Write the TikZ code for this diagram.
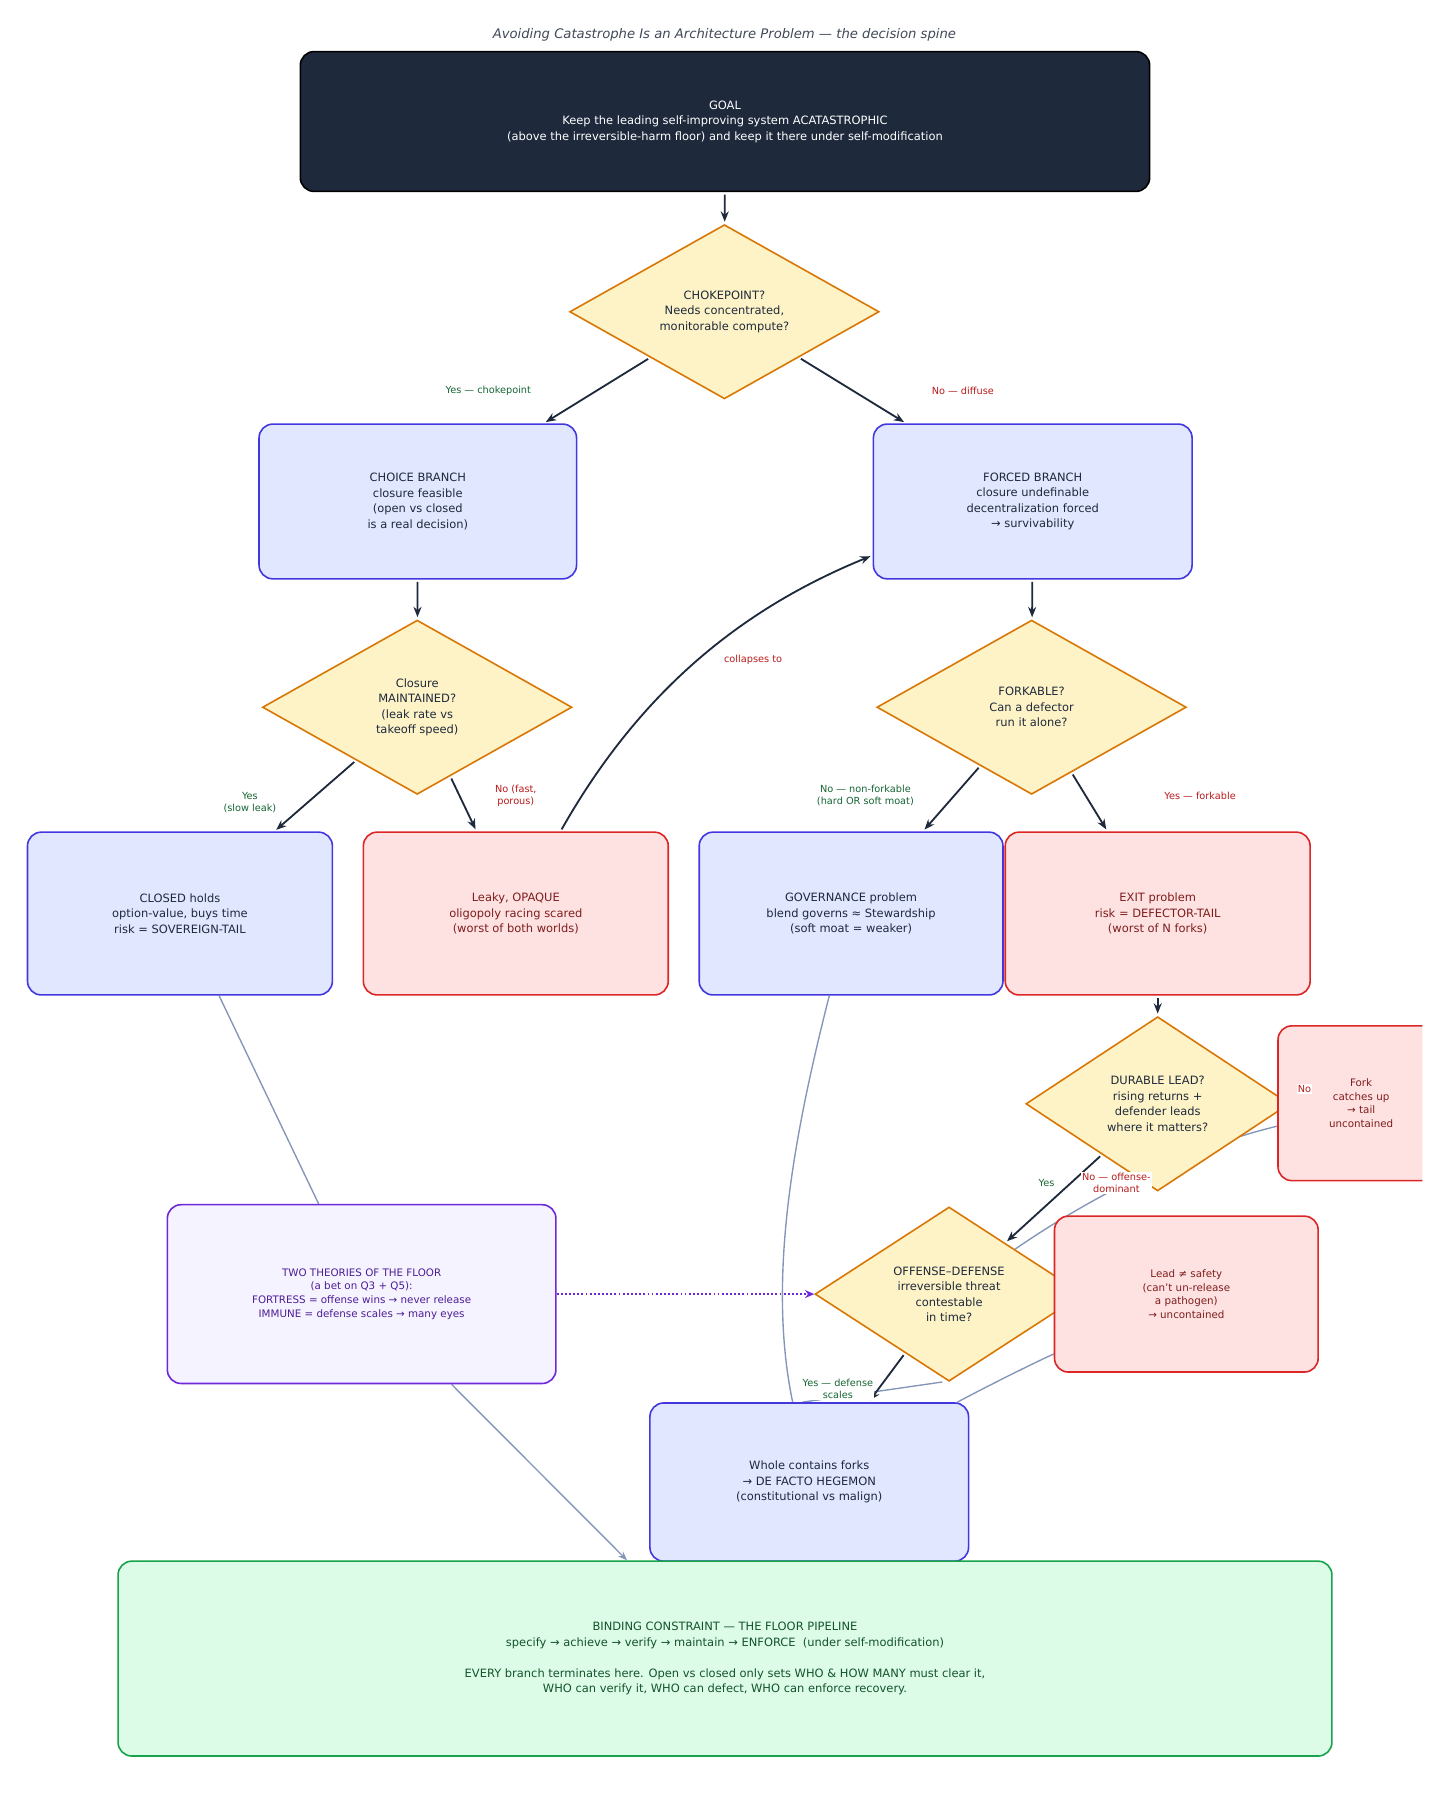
\documentclass[tikz,border=0pt]{standalone}
\usepackage{fontspec}
\setmainfont{DejaVu Sans}
\usetikzlibrary{shapes.geometric,arrows.meta,backgrounds}
\definecolor{ink}{HTML}{1E293B}
\definecolor{bfill}{HTML}{E0E7FF}\definecolor{bline}{HTML}{4338E0}
\definecolor{rfill}{HTML}{FEE2E2}\definecolor{rline}{HTML}{DC2626}\definecolor{rtext}{HTML}{7F1D1D}
\definecolor{dfill}{HTML}{FEF3C7}\definecolor{dline}{HTML}{D97706}
\definecolor{pfill}{HTML}{F5F3FF}\definecolor{pline}{HTML}{6D28D9}\definecolor{ptext}{HTML}{4C1D95}
\definecolor{gfill}{HTML}{DCFCE7}\definecolor{gline}{HTML}{16A34A}\definecolor{gtext}{HTML}{14532D}
\definecolor{lred}{HTML}{B91C1C}\definecolor{lgreen}{HTML}{166534}
\definecolor{gray}{HTML}{8496B8}
\begin{document}
\begin{tikzpicture}[x=1pt,y=-1pt,
  every node/.style={font=\fontsize{10}{13.5}\selectfont,align=center,inner sep=2pt},
  box/.style={rectangle,rounded corners=12pt,line width=1.4pt,minimum width=#1,text=ink},
  blue/.style={box=#1,fill=bfill,draw=bline},
  red/.style={box=#1,fill=rfill,draw=rline,text=rtext},
  dia/.style={diamond,fill=dfill,draw=dline,line width=1.4pt,inner sep=0pt,text=ink},
  arr/.style={draw=ink,line width=1.6pt,-{Stealth[length=9pt,width=7pt]},shorten <=2pt,shorten >=2pt},
  gry/.style={draw=gray,line width=1.2pt},
  lab/.style={font=\fontsize{8.5}{10.5}\selectfont,fill=white,inner sep=1pt},
]
\useasboundingbox (0,0) rectangle (1270,1573);
\node[font=\itshape\fontsize{11.5}{14}\selectfont,text=ink!85] (title) at (632,30) {Avoiding Catastrophe Is an Architecture Problem — the decision spine};
\node[box=741pt,minimum height=122pt,fill=ink,draw=black,text=white] (goal) at (632.5,106) {GOAL\\Keep the leading self-improving system ACATASTROPHIC\\(above the irreversible-harm floor) and keep it there under self-modification};
\node[dia,minimum width=270pt,minimum height=152pt] (choke) at (632,272) {CHOKEPOINT?\\Needs concentrated,\\monitorable compute?};
\node[blue=277pt,minimum height=135pt] (choice) at (364.5,437.5) {CHOICE BRANCH\\closure feasible\\(open vs closed\\is a real decision)};
\node[blue=278pt,minimum height=135pt] (forced) at (901,437.5) {FORCED BRANCH\\closure undefinable\\decentralization forced\\→ survivability};
\node[dia,minimum width=270pt,minimum height=152pt] (closure) at (364,617) {Closure\\MAINTAINED?\\(leak rate vs\\takeoff speed)};
\node[dia,minimum width=270pt,minimum height=152pt] (fork) at (900,617) {FORKABLE?\\Can a defector\\run it alone?};
\node[blue=266pt,minimum height=142pt] (closed) at (157,797) {CLOSED holds\\option-value, buys time\\risk = SOVEREIGN-TAIL};
\node[red=266pt,minimum height=142pt] (leaky) at (450,797) {Leaky, OPAQUE\\oligopoly racing scared\\(worst of both worlds)};
\node[blue=265pt,minimum height=142pt] (gov) at (742.5,797) {GOVERNANCE problem\\blend governs ≈ Stewardship\\(soft moat = weaker)};
\node[red=266pt,minimum height=142pt] (exit) at (1010,797) {EXIT problem\\risk = DEFECTOR-TAIL\\(worst of N forks)};
\node[dia,minimum width=230pt,minimum height=152pt] (dur) at (1010,963) {DURABLE LEAD?\\rising returns +\\defender leads\\where it matters?};
\begin{scope}
\clip (0,0) rectangle (1241,1573);
\node[red=145pt,minimum height=135pt,font=\fontsize{9}{12}\selectfont,text width=100pt] (catch) at (1187.5,962.5) {Fork\\catches up\\→ tail\\uncontained};
\end{scope}
\node[dia,minimum width=234pt,minimum height=152pt] (off) at (828,1129) {OFFENSE–DEFENSE\\irreversible threat\\contestable\\in time?};
\node[red=230pt,minimum height=136pt,font=\fontsize{9}{12}\selectfont] (lead) at (1035,1129) {Lead ≠ safety\\(can't un-release\\a pathogen)\\→ uncontained};
\node[box=339pt,minimum height=156pt,fill=pfill,draw=pline,text=ptext,font=\fontsize{9}{12}\selectfont] (two) at (315.5,1129) {TWO THEORIES OF THE FLOOR\\(a bet on Q3 + Q5):\\FORTRESS = offense wins → never release\\IMMUNE = defense scales → many eyes};
\node[blue=278pt,minimum height=138pt] (whole) at (706,1293) {Whole contains forks\\→ DE FACTO HEGEMON\\(constitutional vs malign)};
\node[box=1059pt,minimum height=170pt,fill=gfill,draw=gline,text=gtext] (bind) at (632.5,1447) {BINDING CONSTRAINT — THE FLOOR PIPELINE\\specify → achieve → verify → maintain → ENFORCE\ \ (under self-modification)\\[13.5pt]EVERY branch terminates here. Open vs closed only sets WHO \& HOW MANY must clear it,\\WHO can verify it, WHO can defect, WHO can enforce recovery.};

\begin{scope}[on background layer]
\draw[gry] (closed) -- (two);
\draw[gry,-{Stealth[length=8pt,width=6pt]}] (two) -- (bind);
\draw[gry] (gov.south) ++(-19,0) .. controls (690,1000) and (670,1120) .. (whole);
\draw[gry] (catch.west) ++(0,20) .. controls (1000,1010) and (900,1080) .. (off);
\draw[gry] (lead) .. controls (900,1190) and (860,1210) .. (whole);
\draw[gry] ([xshift=-6pt]off.south) -- ([xshift=-6pt]whole.north);
\end{scope}

\draw[arr] (goal) -- (choke);
\draw[arr] (choke) -- (choice);
\draw[arr] (choke) -- (forced);
\draw[arr] (choice) -- (closure);
\draw[arr] (forced) -- (fork);
\draw[arr] (closure) -- (closed);
\draw[arr] (closure) -- (leaky);
\draw[arr] ([xshift=39pt]leaky.north) .. controls (560,600) and (650,530) .. ([yshift=-47pt]forced.west);
\draw[arr] (fork) -- (gov);
\draw[arr] (fork) -- (exit);
\draw[arr] (exit) -- (dur);
\draw[arr] (dur) -- (off);
\draw[arr] (off) -- (whole);
\draw[draw=pline,line width=1.6pt,dotted,-{Stealth[length=8pt,width=7pt]}] (two) -- (off);

\node[lab,text=lgreen] (l1) at (426,341) {Yes — chokepoint};
\node[lab,text=lred] (l2) at (840,341) {No — diffuse};
\node[lab,text=lgreen] (l3) at (218,700) {Yes\\(slow leak)};
\node[lab,text=lred] (l4) at (450,694) {No (fast,\\porous)};
\node[lab,text=lred] (l5) at (657,576) {collapses to};
\node[lab,text=lgreen] (l6) at (755,694) {No — non-forkable\\(hard OR soft moat)};
\node[lab,text=lred] (l7) at (1047,694) {Yes — forkable};
\node[lab,text=lred] (l8) at (1138,950) {No};
\node[lab,text=lgreen] (l9) at (913,1032) {Yes};
\node[lab,text=lred] (l10) at (974,1032) {No — offense-\\dominant};
\node[lab,text=lgreen] (l11) at (731,1212) {Yes — defense\\scales};
\end{tikzpicture}
\end{document}
